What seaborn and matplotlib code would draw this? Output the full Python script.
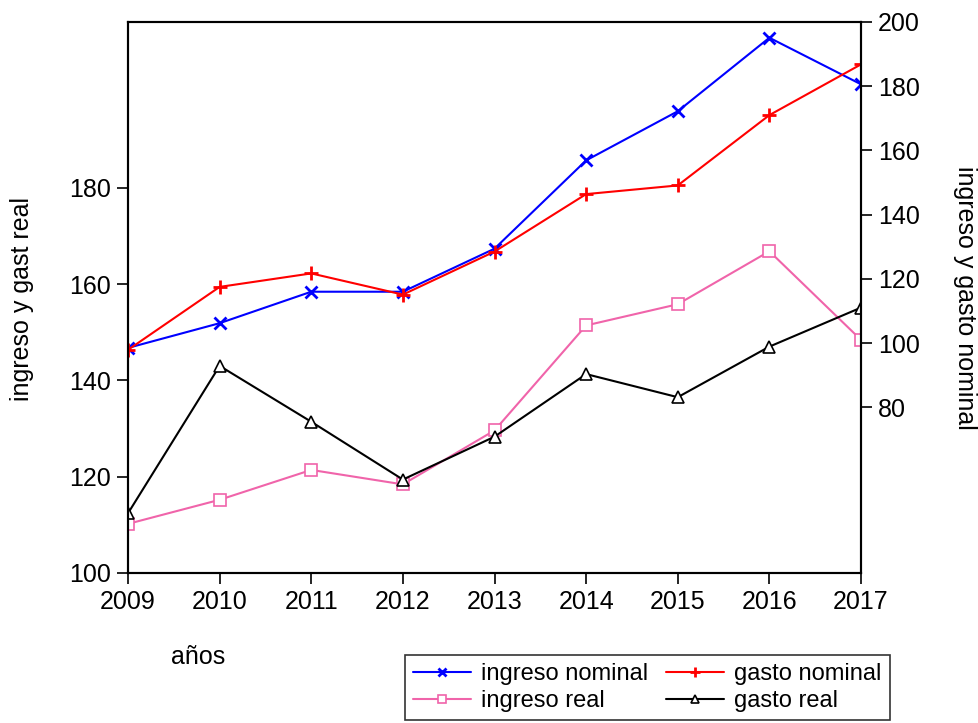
import matplotlib
matplotlib.use("Agg")
import matplotlib.pyplot as plt
import seaborn as sns
import pandas as pd

years = [2009, 2010, 2011, 2012, 2013, 2014, 2015, 2016, 2017]
ingreso_nominal = [98.5, 106.2, 116.0, 116.0, 129.4, 156.9, 172.2, 195.1, 180.6]
gasto_nominal = [97.9, 117.5, 121.7, 115.1, 128.5, 146.4, 149.1, 171.0, 186.8]
ingreso_real = [110.2, 115.2, 121.4, 118.4, 129.6, 151.4, 155.8, 166.8, 148.4]
gasto_real = [112.4, 143.0, 131.4, 119.4, 128.3, 141.3, 136.5, 147.0, 155.1]

left_ticks = [100, 120, 140, 160, 180]
right_ticks = [80, 100, 120, 140, 160, 180, 200]

sns.set_style("ticks")
plt.rcParams['font.family'] = ['Liberation Sans', 'DejaVu Sans']
plt.rcParams['text.color'] = 'black'
plt.rcParams['axes.labelcolor'] = 'black'

FS = 18

fig = plt.figure(figsize=(9.79, 7.23), dpi=100)
ax = fig.add_axes([128/979, 1 - 573/723, (861 - 128)/979, (573 - 22)/723])
ax2 = ax.twinx()

pink = '#F064AA'
df = pd.DataFrame({'year': years, 'in': ingreso_nominal, 'gn': gasto_nominal,
                   'ir': ingreso_real, 'gr': gasto_real})

sns.lineplot(data=df, x='year', y='ir', ax=ax, color=pink, lw=1.5, marker='s',
             markersize=8, markerfacecolor='white', markeredgecolor=pink,
             markeredgewidth=1.2, label='ingreso real', legend=False)
sns.lineplot(data=df, x='year', y='gr', ax=ax, color='black', lw=1.5, marker='^',
             markersize=9, markerfacecolor='white', markeredgecolor='black',
             markeredgewidth=1.2, label='gasto real', legend=False)
sns.lineplot(data=df, x='year', y='in', ax=ax2, color='blue', lw=1.5, marker='x',
             markersize=8, markeredgewidth=2, markeredgecolor='blue',
             label='ingreso nominal', legend=False)
sns.lineplot(data=df, x='year', y='gn', ax=ax2, color='red', lw=1.5, marker='+',
             markersize=10, markeredgewidth=2, markeredgecolor='red',
             label='gasto nominal', legend=False)

ax.set_xlim(2009, 2017)
ax.set_ylim(100, 214.4)
ax2.set_ylim(28.4, 200)
ax.set_xticks(years)
ax.set_xticklabels([str(y) for y in years])
ax.set_yticks(left_ticks)
ax2.set_yticks(right_ticks)

for a in (ax, ax2):
    for s in a.spines.values():
        s.set_linewidth(1.5)
        s.set_color('black')
    a.tick_params(axis='both', labelsize=FS, length=8, width=1.2, colors='black',
                  labelcolor='black', direction='out', pad=4)

ax.set_xlabel('')
ax.set_ylabel('')
ax2.set_ylabel('')

fig.text(22/979, 1 - 299/723, 'ingreso y gast real', rotation=90, fontsize=FS,
         ha='center', va='center', color='black')
fig.text(965/979, 1 - 298/723, 'ingreso y gasto nominal', rotation=270, fontsize=FS,
         ha='center', va='center', color='black')
fig.text(198/979, 1 - 657/723, 'años', fontsize=FS, ha='center', va='center',
         color='black')

h1, l1 = ax.get_legend_handles_labels()
h2, l2 = ax2.get_legend_handles_labels()
hd = dict(zip(l1 + l2, h1 + h2))
order = ['ingreso nominal', 'ingreso real', 'gasto nominal', 'gasto real']
leg = fig.legend([hd[k] for k in order], order, loc='upper left',
                 bbox_to_anchor=(405/979, 1 - 655/723), ncol=2, fontsize=17,
                 frameon=True, fancybox=False, edgecolor='black', borderaxespad=0,
                 handlelength=2.45, handletextpad=0.42, columnspacing=0.76,
                 labelspacing=0.2, borderpad=0.35, markerscale=0.7)
leg.get_frame().set_linewidth(1.2)
for t in leg.get_texts():
    t.set_color('black')

fig.savefig('out.png', dpi=100)
